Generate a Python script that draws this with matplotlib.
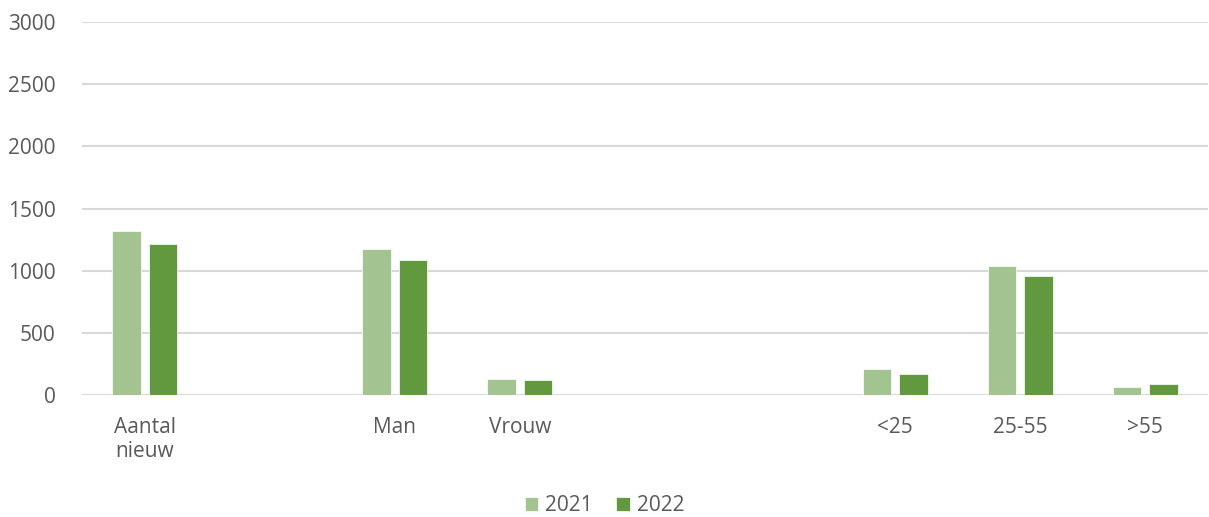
import matplotlib.pyplot as plt
import numpy as np

plt.rcParams['font.family'] = ['Open Sans', 'DejaVu Sans']

# categories (empty slots are blank columns in the original sheet)
categories = ["Aantal\nnieuw", "", "Man", "Vrouw", "", "", "<25", "25-55", ">55"]
values_2021 = [1316, 0, 1177, 131, 0, 0, 209, 1040, 67]
values_2022 = [1212, 0, 1083, 120, 0, 0, 171, 957, 91]

c_2021 = '#a3c490'
c_2022 = '#62993e'
txt = '#595959'

fig = plt.figure(figsize=(12.09, 5.17), dpi=100)
ax = fig.add_axes([0.068, 0.236, 0.931, 0.721])

x = np.arange(len(categories))
w = 0.228
off = 0.146
ax.bar(x - off, values_2021, w, color=c_2021, edgecolor='white', linewidth=0.5, label='2021', zorder=3)
ax.bar(x + off, values_2022, w, color=c_2022, edgecolor='white', linewidth=0.5, label='2022', zorder=3)

ax.set_xlim(-0.5, len(categories) - 0.5)
ax.set_ylim(0, 3000)
ax.set_yticks(np.arange(0, 3001, 500))
ax.set_xticks(x)
ax.set_xticklabels(categories, linespacing=1.2)
ax.yaxis.grid(True, color='#d9d9d9', linewidth=1.5, zorder=0)
ax.set_axisbelow(True)
for s in ['top', 'right', 'left', 'bottom']:
    ax.spines[s].set_visible(False)
ax.tick_params(axis='both', length=0, labelsize=15, colors=txt)
ax.tick_params(axis='x', pad=16)
ax.tick_params(axis='y', pad=19)

fig.legend(loc='lower center', bbox_to_anchor=(0.5, -0.035), ncol=2, frameon=False,
           fontsize=15, labelcolor=txt, handlelength=0.65, handleheight=0.65,
           handletextpad=0.35, columnspacing=1.1)

fig.savefig('out.png', dpi=100)
